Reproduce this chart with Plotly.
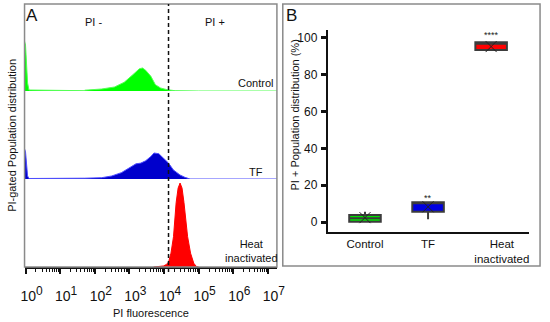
import math
import plotly.graph_objects as go

W, H = 550, 322

# ---------------- data: panel A (x = log10 PI fluorescence, y = counts) ----------------
ctrl_x = [-0.05, -0.03, 0.0, 0.03, 0.06, 0.10, 1.0, 1.70, 1.71, 2.20, 2.57, 2.85, 3.10, 3.29, 3.38, 3.47,
          3.62, 3.75, 3.90, 4.09, 4.32, 5.0, 7.4]
ctrl_y = [0, 50, 46, 30, 8, 1, 0.3, 0.3, 0.8, 2, 4, 8.7, 16.3, 22.3, 23, 20.7,
          14.7, 6.3, 3, 1.3, 0.3, 0, 0]

tf_x = [-0.05, -0.03, 0.0, 0.03, 0.06, 0.10, 1.0, 1.70, 1.71, 2.20, 2.49, 2.77, 3.00, 3.19, 3.33, 3.47,
        3.62, 3.71, 3.85, 3.99, 4.13, 4.27, 4.46, 4.60, 4.70, 4.75, 7.4]
tf_y = [0, 30, 27, 14, 3, 0.5, 0.3, 0.3, 0.8, 1.3, 3, 6.3, 11.3, 15, 15.7, 18,
        22.3, 25.7, 25, 20.7, 15.7, 9, 4, 1.7, 0.7, 0, 0]

heat_x = [3.70, 3.805, 3.983, 4.068, 4.133, 4.201, 4.274, 4.350, 4.407, 4.463, 4.520, 4.576,
          4.681, 4.766, 4.859, 4.935, 5.0]
heat_y = [0, 0.5, 1, 2.5, 5, 13.7, 30, 63.7, 78, 83, 78, 63.7,
          30, 13.7, 3.7, 0.5, 0]

gate = 4.13  # PI- / PI+ gate (log10)
decades = list(range(0, 8))
decade_labels = [f"10<sup><span style='font-size:12px'>{d}</span></sup>" for d in decades]

# ---------------- data: panel B ----------------
groups = ["Control", "TF", "Heat<br>inactivated"]
q1 = [0.2, 5.6, 93.5]
median = [2.0, 10.2, 96.8]
q3 = [3.8, 10.7, 97.7]
lowerfence = [0.0, 1.5, 93.5]
upperfence = [5.6, 10.7, 97.7]
means = [2.4, 8.3, 95.3]
signif = ["", "**", "****"]
signif_y = [0, 13, 101.5]
box_colors = ["#00e000", "#0000e0", "#ff0000"]
y_ticks = [0, 20, 40, 60, 80, 100]


def px_x(p):
    return p / W


def px_y(p):
    return 1 - p / H


fig = go.Figure()

# panel A histograms
fig.add_trace(go.Scatter(x=ctrl_x, y=ctrl_y, mode="lines", fill="tozeroy",
                         line=dict(color="#55ff55", width=1), fillcolor="#00ff00",
                         xaxis="x", yaxis="y", showlegend=False, hoverinfo="skip"))
fig.add_trace(go.Scatter(x=tf_x, y=tf_y, mode="lines", fill="tozeroy",
                         line=dict(color="#4d4dff", width=1), fillcolor="#0000cc",
                         xaxis="x", yaxis="y2", showlegend=False, hoverinfo="skip"))
fig.add_trace(go.Scatter(x=heat_x, y=heat_y, mode="lines", fill="tozeroy",
                         line=dict(color="#ff0000", width=1), fillcolor="#ff0000",
                         xaxis="x", yaxis="y3", showlegend=False, hoverinfo="skip"))

# panel B boxes
for i, g in enumerate(groups):
    fig.add_trace(go.Box(x=[i], q1=[q1[i]], median=[median[i]], q3=[q3[i]],
                         lowerfence=[lowerfence[i]], upperfence=[upperfence[i]],
                         width=0.5, whiskerwidth=0, fillcolor=box_colors[i],
                         line=dict(color="#3c3c3c", width=2),
                         xaxis="x2", yaxis="y4", showlegend=False, hoverinfo="skip"))
fig.add_trace(go.Scatter(x=[0, 1, 2], y=means, mode="markers",
                         marker=dict(symbol="x-thin-open", size=11, color="#222",
                                     line=dict(color="#222", width=1)),
                         xaxis="x2", yaxis="y4", showlegend=False, hoverinfo="skip"))

annotations = []
for i, s in enumerate(signif):
    if s:
        annotations.append(dict(x=i, y=signif_y[i], xref="x2", yref="y4", text=s, showarrow=False,
                                xanchor="center", yanchor="middle", font=dict(size=9, color="#222")))

font_main = "Liberation Sans, Arial, sans-serif"


def label(x, y, text, size=11, xanchor="center", angle=0):
    return dict(x=px_x(x), y=px_y(y), xref="paper", yref="paper", text=text, showarrow=False,
                xanchor=xanchor, yanchor="middle", textangle=angle,
                font=dict(size=size, color="#111"))


annotations += [
    label(29, 15, "A", 17),
    label(91, 22, "PI -"),
    label(216, 22, "PI +"),
    label(277, 83, "Control", xanchor="right"),
    label(258, 172, "TF"),
    label(253, 251, "Heat<br>inactivated"),
    label(8, 135, "PI-gated Population distribution", angle=-90),
    label(150, 313, "PI fluorescence"),
    label(294, 15, "B", 17),
    label(297, 115, "PI + Population distribution (%)", angle=-90),
]

minor_vals = [d + math.log10(m) for d in range(0, 7) for m in range(2, 10)]

shapes = [
    dict(type="rect", xref="paper", yref="paper", x0=px_x(21), x1=px_x(279), y0=px_y(267), y1=px_y(4),
         line=dict(color="#8a8a8a", width=1.5)),
    dict(type="rect", xref="paper", yref="paper", x0=px_x(285), x1=px_x(548), y0=px_y(266), y1=px_y(4),
         line=dict(color="#8a8a8a", width=1.5)),
    dict(type="line", xref="x", yref="paper", x0=gate, x1=gate, y0=px_y(272), y1=px_y(4),
         line=dict(color="#111", width=1.5, dash="4px,3px")),
]

hidden_y = dict(showticklabels=False, showgrid=False, zeroline=False, showline=False, range=[0, 87],
                fixedrange=True)

fig.update_layout(
    width=W, height=H, margin=dict(l=0, r=0, t=0, b=0),
    paper_bgcolor="white", plot_bgcolor="rgba(0,0,0,0)",
    font=dict(family=font_main, size=11, color="#111"),
    xaxis=dict(domain=[px_x(21), px_x(279)], range=[-0.028, 7.26], anchor="y3",
               showgrid=False, zeroline=False, showline=True, linecolor="#111", linewidth=2,
               ticks="outside", ticklen=5, tickwidth=1.5, tickcolor="#111",
               tickvals=decades, ticktext=decade_labels, ticklabelshift=6, ticklabelstandoff=10,
               tickfont=dict(size=14, family=font_main),
               minor=dict(tickvals=minor_vals, ticks="outside", ticklen=3, tickwidth=1, tickcolor="#111")),
    yaxis=dict(domain=[px_y(91), px_y(4)], anchor="x", **hidden_y),
    yaxis2=dict(domain=[px_y(179), px_y(91)], anchor="x", **hidden_y),
    yaxis3=dict(domain=[px_y(267), px_y(179)], anchor="x", **hidden_y),
    xaxis2=dict(domain=[px_x(331), px_x(537)], range=[-0.59, 2.605], anchor="y4",
                showgrid=False, zeroline=False, showline=True, linecolor="#111", linewidth=2,
                ticks="", tickvals=[0, 1, 2.17], ticktext=groups, tickfont=dict(size=11.5)),
    yaxis4=dict(domain=[px_y(232), px_y(30)], range=[-5.4, 104.3], anchor="x2",
                showgrid=False, zeroline=False, showline=True, linecolor="#111", linewidth=2,
                ticks="outside", ticklen=5, tickwidth=3, tickcolor="#111", tickvals=y_ticks,
                ticklabelstandoff=1, tickfont=dict(size=12)),
    annotations=annotations, shapes=shapes,
)

fig.write_html("out.html", config={"displayModeBar": False},
               post_script="document.body.style.margin='0';")
